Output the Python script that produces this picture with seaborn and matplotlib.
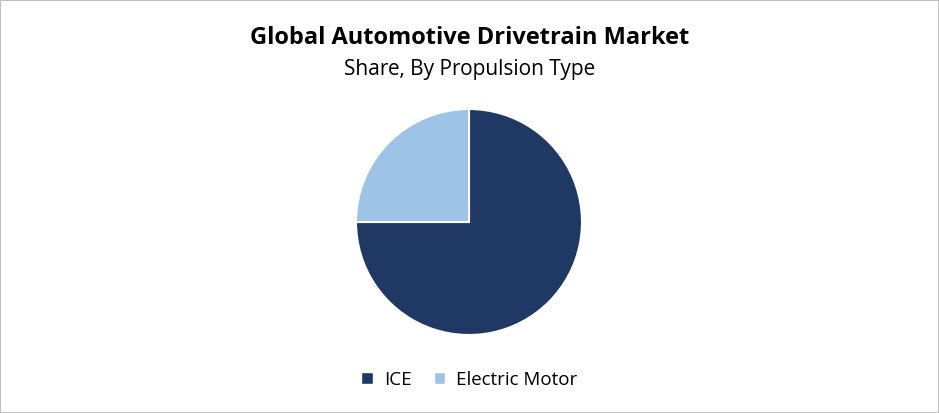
import matplotlib
matplotlib.use("Agg")
import matplotlib.pyplot as plt
import seaborn as sns
from matplotlib.patches import Patch, Rectangle

labels = ["ICE", "Electric Motor"]
shares = [75, 25]
colors = ["#1F3864", "#9DC3E6"]

sns.set_theme(style="white", font="Open Sans")

fig = plt.figure(figsize=(9.39, 4.13), dpi=100)
fig.patches.append(Rectangle((0, 0), 1, 1, transform=fig.transFigure,
                             fill=False, edgecolor="#BFBFBF", linewidth=1.5))

ax = fig.add_axes([(469 - 113) / 939, (413 - 335) / 413, 226 / 939, 226 / 413])
ax.pie(shares, colors=colors, startangle=90, counterclock=False,
       wedgeprops=dict(edgecolor="white", linewidth=1.5))
ax.set_xlim(-1, 1)
ax.set_ylim(-1, 1)
ax.set_aspect("equal")

fig.text(0.5, 1 - 38 / 413, "Global Automotive Drivetrain Market",
         ha="center", va="center", fontsize=17, fontweight="bold", color="black")
fig.text(0.5, 1 - 70 / 413, "Share, By Propulsion Type",
         ha="center", va="center", fontsize=15, color="black")

handles = [Patch(facecolor=c, label=l) for c, l in zip(colors, labels)]
leg = fig.legend(handles=handles, loc="center", bbox_to_anchor=(0.5, 1 - 380 / 413),
                 ncol=2, frameon=False, fontsize=13.5, handlelength=0.6, handleheight=0.6,
                 columnspacing=1.2, handletextpad=0.6)
for t in leg.get_texts():
    t.set_color("black")

fig.savefig("out.png", dpi=100)
